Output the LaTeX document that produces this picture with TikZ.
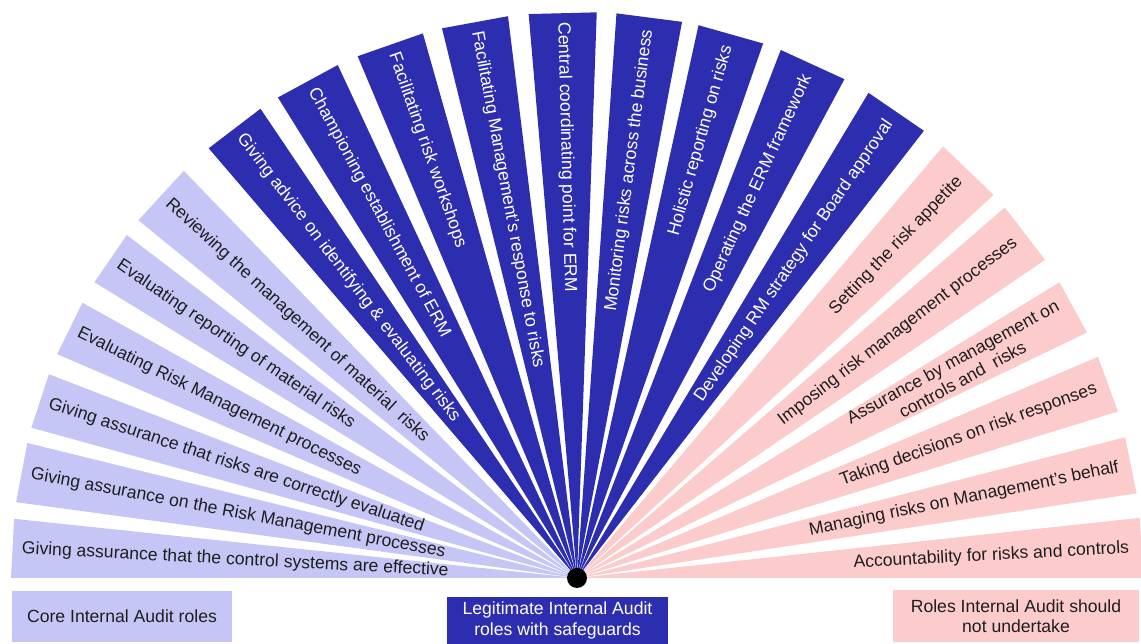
\documentclass[tikz,border=0pt]{standalone}
\usepackage{fontspec}
\setmainfont{Liberation Sans}
\definecolor{corecol}{RGB}{198,198,246}
\definecolor{safecol}{RGB}{45,45,175}
\definecolor{notcol}{RGB}{252,204,204}
\definecolor{inkcol}{RGB}{30,30,30}

\begin{document}
\begin{tikzpicture}[x=1pt,y=1pt,
    lbl/.style={font=\fontsize{17.6}{20.5}\selectfont, inner sep=0pt, align=center},
    core/.style={fill=corecol},
    safe/.style={fill=safecol},
    not/.style={fill=notcol},
    core text/.style={text=inkcol},
    safe text/.style={text=white},
    not text/.style={text=inkcol},
    key/.style={lbl, minimum height=51pt}]
    \useasboundingbox (-577,-66) rectangle (564,578);

    % wedges read from the rim inwards (left half)
    \foreach \a/\b/\c/\t [count=\i] in {
        174/180/core/{Giving assurance that the control systems are effective},
        166.2/172.3/core/{Giving assurance on the Risk Management processes},
        158.9/164.6/core/{Giving assurance that risks are correctly evaluated},
        150.9/156.7/core/{Evaluating Risk Management processes},
        142.7/148.5/core/{Evaluating reporting of material risks},
        134.0/140.8/core/{Reviewing the management of material\ \ risks},
        124.0/130.6/safe/{Giving advice on identifying \& evaluating risks},
        115.0/121.9/safe/{Championing establishment of ERM},
        105.8/112.8/safe/{Facilitating risk workshops},
        97.0/103.8/safe/{Facilitating Management's response to risks},
        88.0/94.9/safe/{Central coordinating point for ERM}} {
        \pgfmathsetmacro\m{(\a+\b)/2}
        \fill[\c] (0,0) -- (\a:566) -- (\b:566) -- cycle;
        \node[lbl, \c\space text, anchor=west, rotate=\m-180] (left\i) at (\m:556) {\t};
    }

    % wedges read from the hub outwards (right half)
    \foreach \a/\b/\c/\t [count=\i] in {
        79.3/86.0/safe/{Monitoring risks across the business},
        70.8/77.6/safe/{Holistic reporting on risks},
        61.8/68.9/safe/{Operating the ERM framework},
        52.2/59.0/safe/{Developing RM strategy for Board approval},
        42.6/49.7/not/{Setting the risk appetite},
        34.2/40.9/not/{Imposing risk management processes},
        25.7/31.5/not/{Assurance by management on\\controls and\ \ risks},
        17.1/23.0/not/{Taking decisions on risk responses},
        8.6/14.4/not/{Managing risks on Management's behalf},
        0/6.1/not/{Accountability for risks and controls}} {
        \pgfmathsetmacro\m{(\a+\b)/2}
        \fill[\c] (0,0) -- (\a:566) -- (\b:566) -- cycle;
        \node[lbl, \c\space text, anchor=east, rotate=\m] (right\i) at (\m:553) {\t};
    }

    \node[circle, fill=black, minimum size=20pt, inner sep=0pt] (hub) at (0,0) {};

    % key
    \node[key, core, core text, minimum width=220pt] (corekey) at (-455,-38.5) {Core Internal Audit roles};
    \node[key, safe, safe text, minimum width=221pt, minimum height=47pt] (safekey) at (-19.5,-42.5) {Legitimate Internal Audit\\roles with safeguards};
    \node[key, not, not text, minimum width=246pt, minimum height=52pt] (notkey) at (439,-38) {Roles Internal Audit should\\not undertake};
\end{tikzpicture}
\end{document}
